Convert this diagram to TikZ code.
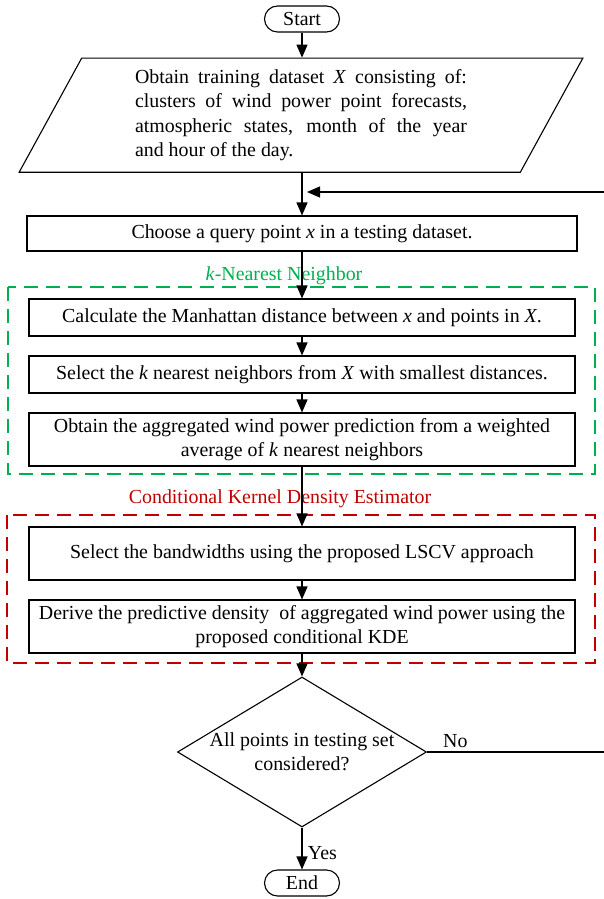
\documentclass[tikz,border=0pt]{standalone}
\usepackage{fontspec}
\setmainfont{Liberation Serif}
\usetikzlibrary{arrows.meta,shapes.geometric,shapes.misc}
\definecolor{knngreen}{RGB}{0,176,80}
\definecolor{kdered}{RGB}{192,0,0}
\begin{document}
\begin{tikzpicture}[x=1pt,y=-1pt,
  every node/.style={font=\fontsize{19.9}{24.3}\selectfont},
  box/.style={draw,line width=1.1pt,rectangle,inner sep=0pt,minimum width=546pt,align=center},
  term/.style={draw,line width=1.1pt,rounded rectangle,minimum width=75pt,minimum height=26pt,inner sep=0pt},
  datain/.style={draw,line width=1.1pt,trapezium,trapezium left angle=62.6,trapezium right angle=117.4,
    trapezium stretches=true,minimum width=566pt,minimum height=114pt,inner sep=0pt,text width=332pt,align=justify},
  decision/.style={draw,line width=1.1pt,diamond,aspect=1.66,minimum width=249pt,minimum height=150pt,inner sep=0pt,align=center},
  arr/.style={line width=1.1pt,-{Triangle[length=13pt,width=11pt]}},
  conn/.style={line width=1.1pt},
  grpbox/.style={line width=1.6pt,dash pattern=on 14pt off 8pt}
]
\useasboundingbox (0,0) rectangle (604,899);

\node[term] (start) at (302,19) {Start};
\node[datain] (para) at (301,115.2) {Obtain training dataset \textit{X} consisting of:\linebreak
clusters of wind power point forecasts,\linebreak
atmospheric states, month of the year\linebreak
and hour of the day.};
\node[box,minimum width=550pt,minimum height=35pt] (choose) at (302,233.5) {Choose a query point \textit{x} in a testing dataset.};

\node[text=knngreen] (knnlabel) at (284,276) {\textit{k}-Nearest Neighbor};
\node[box,minimum height=37pt] (calc) at (302,317.5) {Calculate the Manhattan distance between \textit{x} and points in \textit{X}.};
\node[box,minimum height=37pt] (selk) at (302,374.5) {Select the \textit{k} nearest neighbors from \textit{X} with smallest distances.};
\node[box,minimum height=53pt] (obtain) at (302,439.5) {Obtain the aggregated wind power prediction from a weighted\\average of \textit{k} nearest neighbors};

\node[text=kdered] (kdelabel) at (280,499) {Conditional Kernel Density Estimator};
\node[box,minimum height=53pt] (selbw) at (302,553.5) {Select the bandwidths using the proposed LSCV approach};
\node[box,minimum height=53pt] (derive) at (302,626.5) {Derive the predictive density \ of aggregated wind power using the\\proposed conditional KDE};

\node[decision] (dec) at (302,752) {All points in testing set\\considered?};
\node[term] (end) at (302,883) {End};

\draw[grpbox,knngreen] (8,287) rectangle (595,474);
\draw[grpbox,kdered] (7,515) rectangle (595,663);

\coordinate (noend) at (604,752);
\coordinate (retstart) at (604,192);
\coordinate (loopin) at (307,192);

\draw[arr] (start.south) -- (start.south |- para.north);
\draw[arr] (choose.north |- para.south) -- (choose.north);
\draw[arr] (choose.south) -- (calc.north);
\draw[arr] (calc.south) -- (selk.north);
\draw[arr] (selk.south) -- (obtain.north);
\draw[arr] (obtain.south) -- (selbw.north);
\draw[arr] (selbw.south) -- (derive.north);
\draw[arr] (derive.south) -- (dec.north);
\draw[arr] (dec.south) -- node[right=2pt,pos=0.6] {Yes} (end.north);
\draw[conn] (dec.east) -- node[above,pos=0.16] {No} (noend);
\draw[arr] (retstart) -- (loopin);
\end{tikzpicture}
\end{document}
